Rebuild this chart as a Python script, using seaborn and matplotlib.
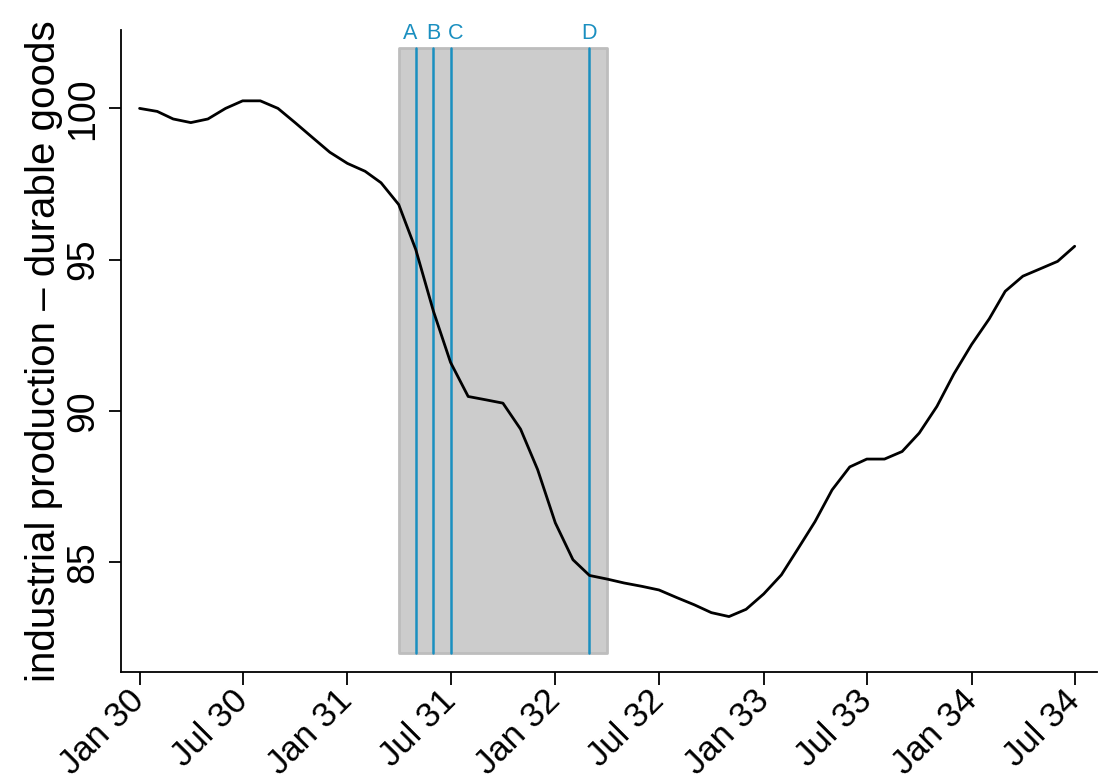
import pandas as pd
import matplotlib.pyplot as plt
import seaborn as sns

# --- datos: produccion industrial, bienes durables (mensual, ene 1930 - jul 1934) ---
start_month = '1930-01-01'
production = [100.0, 99.9, 99.65, 99.53, 99.65, 100.0, 100.25, 100.25, 100.0, 99.53,
              99.03, 98.55, 98.18, 97.92, 97.54, 96.82, 95.33, 93.29, 91.6, 90.47,
              90.36, 90.25, 89.39, 88.05, 86.29, 85.07, 84.55, 84.43, 84.3, 84.19,
              84.07, 83.82, 83.58, 83.32, 83.19, 83.43, 83.94, 84.57, 85.4, 86.33,
              87.38, 88.14, 88.4, 88.4, 88.65, 89.26, 90.14, 91.22, 92.19, 93.04,
              93.95, 94.45, 94.69, 94.94, 95.44]

event_labels = ['A', 'B', 'C', 'D']
event_dates = ['1931-05-01', '1931-06-01', '1931-07-01', '1932-03-01']
label_shift = [-4, 0, 4, 0]   # separar etiquetas (puntos)
shade_dates = ['1931-04-01', '1932-04-01']
shade_range = [82, 102]

tick_dates = pd.date_range('1930-01-01', '1934-07-01', freq='6MS')

df = pd.DataFrame({
    'date': pd.date_range(start_month, periods=len(production), freq='MS'),
    'value': production,
})

sns.set_style('ticks')
plt.rcParams['font.family'] = ['Liberation Sans', 'DejaVu Sans']
plt.rcParams['text.color'] = 'black'
plt.rcParams['axes.labelcolor'] = 'black'
plt.rcParams['xtick.color'] = 'black'
plt.rcParams['ytick.color'] = 'black'

fig = plt.figure(figsize=(10.98, 7.84), dpi=100)
ax = fig.add_axes([0.110, 0.143, 0.889, 0.819])

blue = '#1a8fc0'

# --- zona sombreada ---
s0, s1 = pd.to_datetime(shade_dates)
ax.fill_between([s0, s1], shade_range[0], shade_range[1],
                facecolor='#cccccc', edgecolor='#bdbdbd', linewidth=2, zorder=1)

# --- eventos ---
for lab, d, dx in zip(event_labels, pd.to_datetime(event_dates), label_shift):
    ax.plot([d, d], shade_range, color=blue, linewidth=1.8, zorder=2)
    ax.annotate(lab, xy=(d, shade_range[1]), xytext=(dx, 3),
                textcoords='offset points', color=blue, fontsize=15.5,
                ha='center', va='bottom')

sns.lineplot(data=df, x='date', y='value', color='black', linewidth=2,
             ax=ax, zorder=3)

ax.set_xlim(pd.Timestamp('1930-01-01') - pd.Timedelta(days=33),
            pd.Timestamp('1934-07-01') + pd.Timedelta(days=39))
ax.set_ylim(81.36, 102.6)

ax.set_xticks(tick_dates)
ax.set_xticklabels([d.strftime('%b %y') for d in tick_dates],
                   rotation=45, ha='right', va='center', rotation_mode='anchor',
                   fontsize=25)
ax.set_yticks([85, 90, 95, 100])
ax.set_yticklabels(['85', '90', '95', '100'], rotation=90, va='center', fontsize=27)
ax.tick_params(axis='both', length=9, width=1.3, color='black', pad=5)
ax.tick_params(axis='x', pad=8)

ax.set_xlabel('')
ax.set_ylabel('industrial production \u2013 durable goods', fontsize=29, labelpad=2)

sns.despine(ax=ax)
for sp in ['left', 'bottom']:
    ax.spines[sp].set_linewidth(1.3)
    ax.spines[sp].set_color('black')

plt.savefig('out.png', dpi=100)
